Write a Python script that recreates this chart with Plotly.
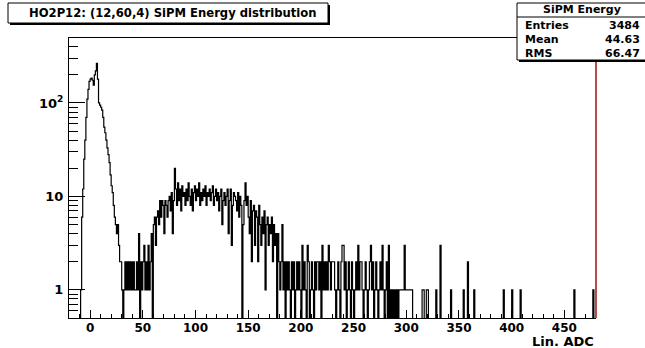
import plotly.graph_objects as go

# ---------------- data ----------------
bin_lo = -20          # first bin lower edge (ADC)
bin_w = 1             # bin width (ADC)
# counts for bins -20 .. 299 (10 bins per row)
counts_main = [
    0, 0, 0, 0, 0, 0, 0, 0, 0, 0,            # -20..-11
    0, 1, 6, 12, 25, 40, 70, 110, 140, 170,  # -10..-1
    180, 185, 175, 155, 200, 220, 265, 180, 100, 95,  # 0..9
    90, 84, 70, 55, 48, 40, 33, 28, 23, 17,  # 10..19
    13, 11, 8, 6, 5, 4, 5, 3, 2, 2,          # 20..29
    1, 0, 1, 2, 1, 2, 1, 2, 1, 2,            # 30..39
    1, 2, 1, 1, 2, 1, 4, 0, 2, 1,            # 40..49
    2, 3, 1, 2, 1, 3, 1, 2, 4, 0,            # 50..59
    5, 6, 3, 6, 7, 5, 9, 6, 9, 8,            # 60..69
    4, 9, 8, 6, 9, 10, 7, 11, 4, 9,          # 70..79
    20, 12, 8, 14, 9, 12, 7, 13, 10, 11,     # 80..89
    8, 12, 9, 14, 10, 8, 12, 7, 11, 13,      # 90..99
    9, 12, 10, 14, 8, 11, 9, 12, 10, 13,     # 100..109
    8, 11, 10, 12, 9, 11, 13, 8, 10, 12,     # 110..119
    9, 11, 7, 10, 12, 5, 9, 11, 8, 10,       # 120..129
    12, 4, 9, 12, 3, 8, 11, 10, 9, 7,        # 130..139
    11, 6, 10, 8, 0, 5, 9, 14, 8, 10,        # 140..149
    6, 4, 9, 2, 7, 8, 3, 7, 6, 2,            # 150..159
    8, 5, 3, 6, 4, 7, 1, 5, 6, 3,            # 160..169
    5, 4, 6, 2, 5, 3, 4, 0, 4, 2,            # 170..179
    1, 2, 5, 1, 2, 0, 2, 1, 2, 1,            # 180..189
    0, 2, 1, 2, 0, 1, 2, 1, 2, 1,            # 190..199
    0, 3, 1, 2, 1, 0, 3, 2, 0, 1,            # 200..209
    2, 1, 0, 2, 1, 2, 2, 1, 2, 0,            # 210..219
    3, 1, 2, 1, 2, 1, 3, 2, 1, 2,            # 220..229
    2, 2, 1, 0, 1, 2, 1, 0, 2, 3,            # 230..239
    3, 1, 2, 0, 1, 2, 1, 0, 2, 1,            # 240..249
    0, 1, 2, 1, 3, 1, 2, 2, 1, 0,            # 250..259
    1, 2, 1, 0, 1, 2, 3, 1, 2, 0,            # 260..269
    1, 2, 1, 0, 1, 2, 1, 3, 1, 0,            # 270..279
    1, 2, 0, 3, 0, 1, 0, 1, 0, 1,            # 280..289
    0, 1, 0, 1, 1, 1, 1, 1, 3, 1,            # 290..299
]
# sparse tail, bins 300 .. 479: (bin lower edge, count)
tail_bins = [300, 301, 302, 303, 304, 305, 315, 316, 319, 320, 328, 332,
             342, 354, 358, 364, 392, 400, 408, 459, 477]
tail_counts = [1, 1, 1, 1, 1, 1, 1, 1, 1, 1, 1, 3,
               1, 1, 2, 1, 1, 1, 1, 1, 1]
n_bins = 500

x_tickvals = [0, 50, 100, 150, 200, 250, 300, 350, 400, 450]
y_tickvals = [1, 10, 100]
y_ticktext = ["1", "10", "10<sup>2</sup>"]

title_text = "HO2P12: (12,60,4) SiPM Energy distribution"
stats_title = "SiPM Energy"
stats_labels = ["Entries", "Mean", "RMS"]
stats_values = ["3484", "44.63", "66.47"]
x_title = "Lin. ADC"

# ---------------- build histogram ----------------
counts = list(counts_main) + [0] * (n_bins - len(counts_main))
for b, c in zip(tail_bins, tail_counts):
    counts[b - bin_lo] = c
centers = [bin_lo + (i + 0.5) * bin_w for i in range(n_bins)]
floor = 0.3  # below the log axis minimum -> drawn to the frame bottom (ROOT style)
yplot = [c if c > 0 else floor for c in counts]

# ---------------- layout geometry ----------------
W, H = 645, 348
L, R, T, B = 69, 596, 38, 318
FONT = "DejaVu Sans"

def px(x):
    return (x - L) / (R - L)

def py(y):
    return (B - y) / (B - T)

fig = go.Figure()
fig.add_trace(go.Scatter(
    x=centers, y=yplot, mode="lines",
    line=dict(color="black", width=1.2, shape="hvh"),
    hoverinfo="skip", showlegend=False,
))

minor_y = [v * m for v in (0.1, 1, 10, 100) for m in range(2, 10) if 0.5 <= v * m <= 500]

fig.update_layout(
    width=W, height=H,
    margin=dict(l=L, r=W - R, t=T, b=H - B),
    paper_bgcolor="white", plot_bgcolor="white",
    showlegend=False,
    font=dict(family=FONT, color="black"),
    xaxis=dict(
        range=[-20, 480], showgrid=False, zeroline=False,
        showline=True, linecolor="black", linewidth=1, mirror=True,
        ticks="inside", ticklen=8, tickwidth=1, tickcolor="black",
        tickmode="array", tickvals=x_tickvals,
        tickfont=dict(family=FONT, size=12, weight="bold"),
        ticklabelstandoff=-1,
        minor=dict(ticks="inside", ticklen=4, tickwidth=1, tickcolor="black",
                   tickmode="linear", tick0=0, dtick=10),
    ),
    yaxis=dict(
        type="log", range=[-0.301, 2.695], showgrid=False, zeroline=False,
        showline=True, linecolor="black", linewidth=1, mirror=False,
        ticks="inside", ticklen=16, tickwidth=1, tickcolor="black",
        tickmode="array", tickvals=y_tickvals, ticktext=y_ticktext,
        tickfont=dict(family=FONT, size=13, weight="bold"),
        ticklabelstandoff=2,
        minor=dict(ticks="inside", ticklen=9, tickwidth=1, tickcolor="black",
                   tickmode="array", tickvals=minor_y),
    ),
)

shapes = []
# red right edge of the frame
shapes.append(dict(type="line", xref="paper", yref="paper", x0=1, x1=1, y0=0, y1=1,
                   line=dict(color="#a01010", width=1.5), layer="above"))
# title box with shadow
tb = (8, 3, 328, 23)
shapes.append(dict(type="rect", xref="paper", yref="paper",
                   x0=px(tb[0] + 2), x1=px(tb[2] + 2), y0=py(tb[3] + 2), y1=py(tb[1] + 2),
                   fillcolor="black", line=dict(width=0), layer="above"))
shapes.append(dict(type="rect", xref="paper", yref="paper",
                   x0=px(tb[0]), x1=px(tb[2]), y0=py(tb[3]), y1=py(tb[1]),
                   fillcolor="white", line=dict(color="black", width=1), layer="above"))
# stats box with shadow
sb = (517, 3, 660, 60)
shapes.append(dict(type="rect", xref="paper", yref="paper",
                   x0=px(sb[0] + 2), x1=px(sb[2] + 2), y0=py(sb[3] + 2), y1=py(sb[1] + 2),
                   fillcolor="black", line=dict(width=0), layer="above"))
shapes.append(dict(type="rect", xref="paper", yref="paper",
                   x0=px(sb[0]), x1=px(sb[2]), y0=py(sb[3]), y1=py(sb[1]),
                   fillcolor="white", line=dict(color="black", width=1), layer="above"))
shapes.append(dict(type="line", xref="paper", yref="paper",
                   x0=px(sb[0]), x1=px(sb[2]), y0=py(17), y1=py(17),
                   line=dict(color="black", width=1), layer="above"))
fig.update_layout(shapes=shapes)

ann = []
ann.append(dict(text=title_text, xref="paper", yref="paper", x=px(27), y=py(13),
                xanchor="left", yanchor="middle", showarrow=False,
                font=dict(family=FONT, size=11.6, weight="bold", color="black")))
ann.append(dict(text=stats_title, xref="paper", yref="paper", x=px(582), y=py(10),
                xanchor="center", yanchor="middle", showarrow=False,
                font=dict(family=FONT, size=11, weight="bold", color="black")))
row_y = [26, 40, 53]
for lab, val, yy in zip(stats_labels, stats_values, row_y):
    ann.append(dict(text=lab, xref="paper", yref="paper", x=px(523), y=py(yy),
                    xanchor="left", yanchor="middle", showarrow=False,
                    font=dict(family=FONT, size=11, weight="bold", color="black")))
    ann.append(dict(text=val, xref="paper", yref="paper", x=px(642), y=py(yy),
                    xanchor="right", yanchor="middle", showarrow=False,
                    font=dict(family=FONT, size=11, weight="bold", color="black")))
ann.append(dict(text=x_title, xref="paper", yref="paper", x=px(596), y=py(341.5),
                xanchor="right", yanchor="middle", showarrow=False,
                font=dict(family=FONT, size=13, weight="bold", color="black")))
fig.update_layout(annotations=ann)

fig.write_html("out.html")
